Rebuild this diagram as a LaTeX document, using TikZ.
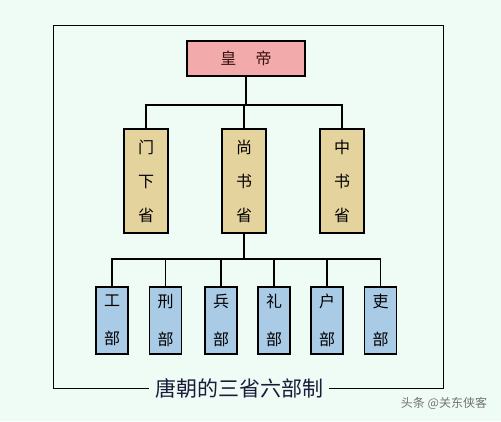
\documentclass[tikz,border=0pt]{standalone}
\usepackage{fontspec}
\newfontfamily\cjk{Noto Sans CJK SC}
\definecolor{bgmint}{HTML}{EFFBF5}
\definecolor{pinkfill}{HTML}{F3AAAA}
\definecolor{tanfill}{HTML}{E5D39E}
\definecolor{bluefill}{HTML}{A9CBE6}
\definecolor{inkred}{HTML}{3A1010}
\definecolor{inkblue}{HTML}{1A1A3A}

\tikzstyle{box} = [rectangle, draw, line width=1.6pt, inner sep=0pt, align=center]
\tikzstyle{emperor} = [box, fill=pinkfill, minimum width=118pt, minimum height=35pt, text=inkred, font=\cjk\fontsize{16}{16}\selectfont]
\tikzstyle{sheng} = [box, fill=tanfill, minimum width=44pt, minimum height=104pt, font=\cjk\fontsize{16}{34}\selectfont]
\tikzstyle{bu} = [box, fill=bluefill, minimum width=32pt, minimum height=67pt, font=\cjk\fontsize{16}{38}\selectfont]
\tikzstyle{link} = [line width=1.6pt]

\begin{document}
\begin{tikzpicture}[x=1pt, y=-1pt]
	\fill[bgmint] (0,0) rectangle (501,421);
	\useasboundingbox (0,0) rectangle (501,421);
	\draw[line width=0.8pt] (53,25) rectangle (443,388);
	\node[fill=bgmint, inner xsep=6pt, text=inkblue, font=\cjk\fontsize{21}{21}\selectfont] (title) at (239,388) {唐朝的三省六部制};

	\node[emperor] (huangdi) at (246,58.5) {皇\hspace{1.2em}帝};

	\node[sheng] (menxia) at (146,181) {门\\下\\省};
	\node[sheng] (shangshu) at (244,181) {尚\\书\\省};
	\node[sheng] (zhongshu) at (342,181) {中\\书\\省};

	\node[bu] (gong) at (112,320.5) {工\\部};
	\node[bu] (xing) at (165.5,320.5) {刑\\部};
	\node[bu] (bing) at (221,320.5) {兵\\部};
	\node[bu] (li) at (274,320.5) {礼\\部};
	\node[bu] (hu) at (327,320.5) {户\\部};
	\node[bu] (libu) at (380.5,320.5) {吏\\部};

	\coordinate (j1) at (244,105);
	\coordinate (j2) at (244,259);

	% emperor to the three departments
	\draw[link] (huangdi.south) |- (j1);
	\draw[link] (menxia.north) |- (j1) -| (zhongshu.north);
	\draw[link] (j1) -- (shangshu.north);

	% shangshu to the six ministries
	\draw[link] (shangshu.south) -- (j2);
	\draw[link] (gong.north) |- (j2) -| (libu.north);
	\foreach \b in {xing,bing,li,hu}
		\draw[link] (\b.north) -- (\b.north |- j2);

	\node[text=black!55, font=\cjk\fontsize{12}{12}\selectfont] (mark) at (444,403) {头条 @关东侠客};
\end{tikzpicture}
\end{document}
